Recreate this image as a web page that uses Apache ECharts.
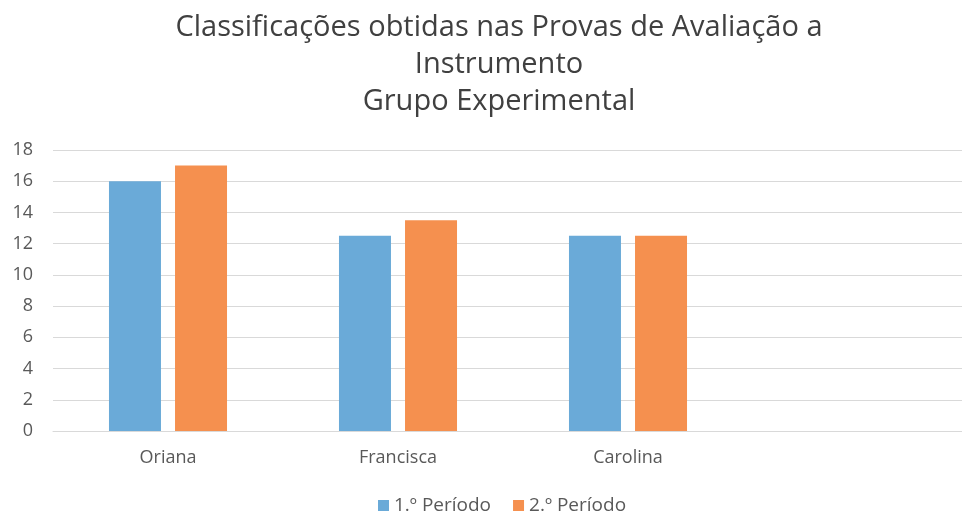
<!DOCTYPE html>
<html><head><meta charset="utf-8">
<script src="https://cdn.jsdelivr.net/npm/echarts@6/dist/echarts.min.js"></script>
<style>html,body{margin:0;padding:0;background:#fff;overflow:hidden;width:962px;height:514px}#c{width:975px;height:514px}</style>
</head><body><div id="c"></div>
<script>
var categories = ['Oriana', 'Francisca', 'Carolina', ''];
var periodo1 = [16, 12.5, 12.5, null];
var periodo2 = [17, 13.5, 12.5, null];
var seriesNames = ['1.º Período', '2.º Período'];
var titleText = 'Classificações obtidas nas Provas de Avaliação a\nInstrumento\nGrupo Experimental';

var chart = echarts.init(document.getElementById('c'), null, {renderer: 'canvas'});
var font = '"Open Sans", sans-serif';
chart.setOption({
  animation: false,
  backgroundColor: '#fff',
  title: {
    text: titleText, left: 494, textAlign: 'center', top: 4,
    textStyle: {fontFamily: font, fontSize: 29, fontWeight: 'normal', color: '#404040', lineHeight: 37}
  },
  legend: {
    top: 491, left: 373, itemWidth: 11, itemHeight: 11, itemGap: 22,
    icon: 'rect',
    textStyle: {fontFamily: font, fontSize: 19, color: '#595959'},
    data: seriesNames
  },
  grid: {left: 53, right: 2, top: 150, bottom: 83, containLabel: false},
  xAxis: {
    type: 'category', data: categories,
    axisLine: {lineStyle: {color: '#d9d9d9'}},
    axisTick: {show: false},
    axisLabel: {fontFamily: font, fontSize: 18, color: '#595959', margin: 18}
  },
  yAxis: {
    type: 'value', min: 0, max: 18, interval: 2,
    axisLine: {show: false}, axisTick: {show: false},
    splitLine: {lineStyle: {color: '#d9d9d9', width: 1}},
    axisLabel: {fontFamily: font, fontSize: 18, color: '#595959', margin: 20}
  },
  series: [
    {name: seriesNames[0], type: 'bar', data: periodo1, barWidth: 52, barGap: '27%',
     itemStyle: {color: '#6aaad8'}},
    {name: seriesNames[1], type: 'bar', data: periodo2, barWidth: 52,
     itemStyle: {color: '#f5904f'}}
  ]
});
</script></body></html>
